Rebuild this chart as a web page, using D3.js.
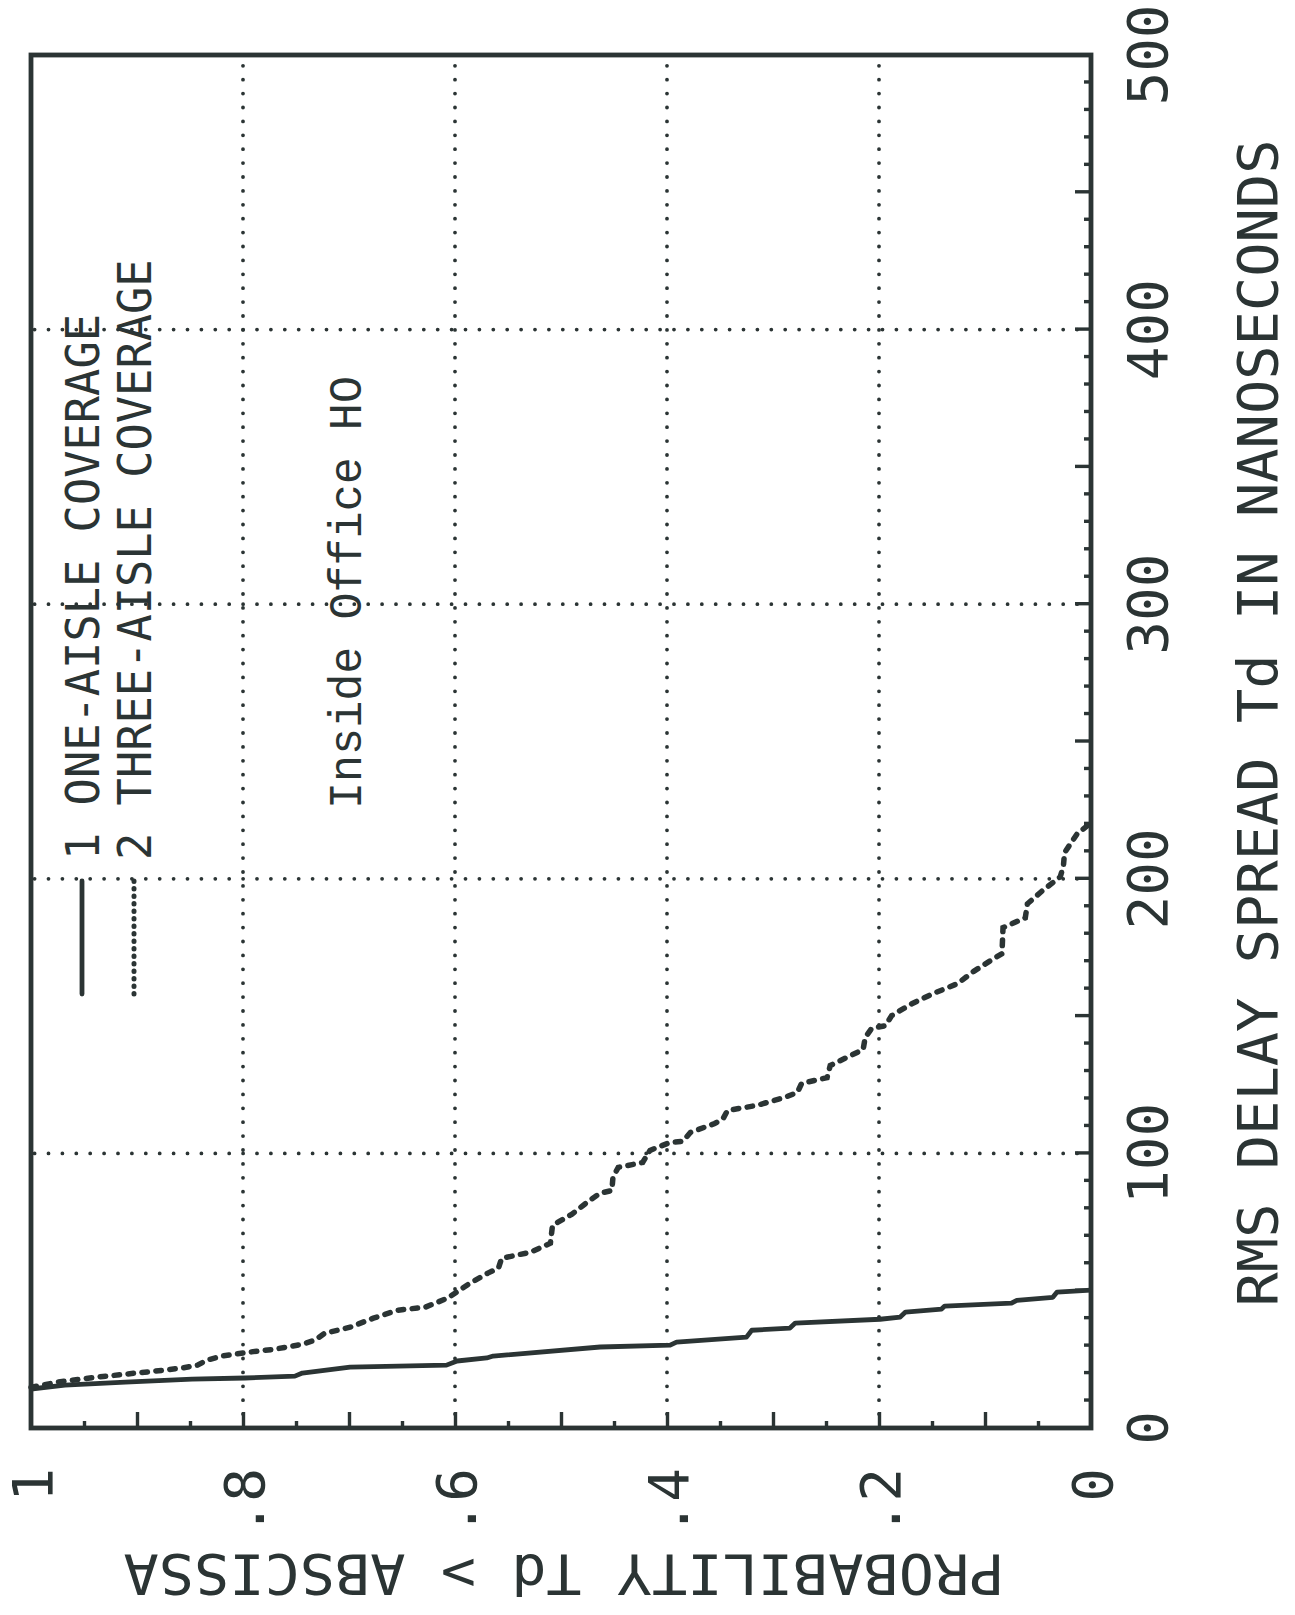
<!DOCTYPE html>
<html>
<head>
<meta charset="utf-8">
<script src="https://cdn.jsdelivr.net/npm/d3@7"></script>
<style>
  html, body { margin: 0; padding: 0; background: #ffffff; }
  svg { display: block; }
</style>
</head>
<body>
<svg id="chart" width="1295" height="1615"></svg>
<script>
// Complementary CDF of RMS delay spread, inside office HO.
// Each series: [delay in ns, probability that Td exceeds it]
const oneAisle = [
  [14.2, 1.0], [15.6, 0.968], [16.7, 0.911], [17.8, 0.848], [18.2, 0.798],
  [18.9, 0.751], [20.0, 0.744], [22.2, 0.699], [22.9, 0.608], [24.4, 0.598],
  [25.5, 0.570], [26.2, 0.564], [29.5, 0.463], [30.2, 0.397], [31.3, 0.391],
  [33.1, 0.325], [35.6, 0.320], [36.4, 0.284], [38.2, 0.279], [39.6, 0.199],
  [40.4, 0.180], [42.2, 0.175], [43.3, 0.141], [44.4, 0.138], [45.5, 0.075],
  [46.5, 0.070], [47.6, 0.036], [49.5, 0.032], [50.2, 0.0]
];
const threeAisle = [
  [14.8, 1.0], [16.7, 0.975], [18.5, 0.938], [19.6, 0.911], [20.7, 0.883],
  [21.8, 0.858], [22.9, 0.843], [24.7, 0.834], [26.2, 0.820], [27.6, 0.795],
  [28.7, 0.770], [30.5, 0.744], [32.0, 0.732], [34.5, 0.723], [36.7, 0.699],
  [40.0, 0.677], [42.9, 0.654], [44.0, 0.628], [47.3, 0.607], [52.7, 0.586],
  [56.4, 0.569], [58.2, 0.559], [61.8, 0.556], [64.0, 0.529], [67.3, 0.510],
  [73.8, 0.508], [77.8, 0.490], [82.9, 0.473], [85.5, 0.463], [86.5, 0.452],
  [91.3, 0.451], [94.9, 0.446], [96.7, 0.423], [101.1, 0.416], [104.0, 0.397],
  [104.4, 0.385], [107.6, 0.378], [110.9, 0.355], [112.7, 0.347], [115.6, 0.343],
  [117.5, 0.315], [120.4, 0.289], [122.2, 0.277], [125.5, 0.273], [127.6, 0.249],
  [132.0, 0.246], [135.6, 0.227], [137.8, 0.215], [142.2, 0.213], [145.5, 0.207],
  [146.5, 0.194], [150.2, 0.188], [154.5, 0.169], [158.2, 0.149], [161.8, 0.126],
  [166.2, 0.111], [170.9, 0.092], [172.7, 0.084], [182.2, 0.083], [185.8, 0.062],
  [190.9, 0.060], [195.6, 0.046], [200.7, 0.029], [204.7, 0.026], [209.5, 0.025],
  [216.4, 0.013], [220.4, 0.0]
];

const delayTicks = [0, 100, 200, 300, 400, 500];
const delayTickLabels = ["0", "100", "200", "300", "400", "500"];
const probTicks = [0, 0.2, 0.4, 0.6, 0.8, 1];
const probTickLabels = ["0", ".2", ".4", ".6", ".8", "1"];
const seriesNames = ["1 ONE-AISLE COVERAGE", "2 THREE-AISLE COVERAGE"];
const xTitle = "RMS DELAY SPREAD Td IN NANOSECONDS";
const yTitle = "PROBABILITY Td > ABSCISSA";
const note = "Inside Office HO";

const ink = "#2b3434";
const W = 1373, H = 1060;           // plot size in the chart's own frame
const svg = d3.select("#chart");

// the whole plot is laid on its side: delay runs upward, probability leftward
const g = svg.append("g").attr("transform", "translate(31,1428) rotate(-90)");

const x = d3.scaleLinear().domain([0, 500]).range([0, W]);
const y = d3.scaleLinear().domain([0, 1]).range([H, 0]);

// dotted grid
const grid = g.append("g")
  .attr("stroke", ink).attr("stroke-width", 3.8)
  .attr("stroke-linecap", "round").attr("stroke-dasharray", "0 13.9");
grid.selectAll("line.gx").data(delayTicks.slice(1, -1)).join("line")
  .attr("x1", d => x(d)).attr("x2", d => x(d))
  .attr("y1", H).attr("y2", 0);
grid.selectAll("line.gy").data(probTicks.slice(1, -1)).join("line")
  .attr("x1", 0).attr("x2", W)
  .attr("y1", d => y(d)).attr("y2", d => y(d));

// delay axis with inward ticks: every 10 ns, long ones every 50 ns
const xMinor = d3.range(10, 500, 10).filter(d => d % 50 !== 0);
const xMajor = d3.range(50, 500, 50);
const xAxisG = g.append("g").attr("transform", `translate(0,${H})`);
xAxisG.call(d3.axisBottom(x).tickValues(xMinor).tickSize(-7).tickFormat(""));
xAxisG.call(g2 => g2.append("g").call(d3.axisBottom(x).tickValues(xMajor).tickSize(-16).tickFormat("")));
xAxisG.selectAll("path.domain").remove();
xAxisG.selectAll("line").attr("stroke", ink).attr("stroke-width", 3.4);

// probability axis with inward ticks: every .05, long ones every .1
const yMinor = d3.range(0.05, 1, 0.1);
const yMajor = d3.range(0.1, 0.95, 0.1);
const yAxisG = g.append("g");
yAxisG.call(d3.axisLeft(y).tickValues(yMinor).tickSize(-7).tickFormat(""));
yAxisG.call(g2 => g2.append("g").call(d3.axisLeft(y).tickValues(yMajor).tickSize(-16).tickFormat("")));
yAxisG.selectAll("path.domain").remove();
yAxisG.selectAll("line").attr("stroke", ink).attr("stroke-width", 3.4);

// frame
g.append("rect").attr("x", 0).attr("y", 0).attr("width", W).attr("height", H)
  .attr("fill", "none").attr("stroke", ink).attr("stroke-width", 4.8);

// tick labels
const tickFont = "'DejaVu Sans Mono', monospace";
g.append("g").selectAll("text").data(delayTicks).join("text")
  .attr("x", d => x(d)).attr("y", H + 76)
  .attr("text-anchor", "middle")
  .attr("font-family", tickFont).attr("font-size", 56).attr("fill", ink)
  .text((d, i) => delayTickLabels[i]);

g.append("g").selectAll("text").data(probTicks).join("text")
  .attr("x", -40).attr("y", d => y(d) + 21)
  .attr("text-anchor", "end")
  .attr("font-family", tickFont).attr("font-size", 56).attr("fill", ink)
  .text((d, i) => probTickLabels[i]);

// axis titles
g.append("text")
  .attr("x", 705).attr("y", H + 186)
  .attr("text-anchor", "middle")
  .attr("font-family", tickFont).attr("font-size", 56).attr("fill", ink)
  .attr("textLength", 1167).attr("lengthAdjust", "spacingAndGlyphs")
  .text(xTitle);

g.append("text")
  .attr("transform", `translate(-127,${H / 2 + 3}) rotate(-90)`)
  .attr("text-anchor", "middle")
  .attr("font-family", tickFont).attr("font-size", 56).attr("fill", ink)
  .attr("textLength", 881).attr("lengthAdjust", "spacingAndGlyphs")
  .text(yTitle);

// curves
const line = d3.line().x(d => x(d[0])).y(d => y(d[1]));
g.append("path").datum(oneAisle).attr("d", line)
  .attr("fill", "none").attr("stroke", ink).attr("stroke-width", 4.8)
  .attr("stroke-linejoin", "round");
g.append("path").datum(threeAisle).attr("d", line)
  .attr("fill", "none").attr("stroke", ink).attr("stroke-width", 5.5)
  .attr("stroke-linecap", "round").attr("stroke-dasharray", "5.5 8.5");

// legend
const legend = g.append("g");
const legendRows = [
  { name: seriesNames[0], yc: 51, dash: null, w: 4.8 },
  { name: seriesNames[1], yc: 103, dash: "0.5 7", w: 5 }
];
legendRows.forEach(r => {
  legend.append("line")
    .attr("x1", 434).attr("x2", 547).attr("y1", r.yc).attr("y2", r.yc)
    .attr("stroke", ink).attr("stroke-width", r.w)
    .attr("stroke-linecap", "round")
    .attr("stroke-dasharray", r.dash);
  legend.append("text")
    .attr("x", 568).attr("y", r.yc + 17)
    .attr("font-family", tickFont).attr("font-size", 47).attr("fill", ink)
    .attr("textLength", r.name.length * 27.3).attr("lengthAdjust", "spacingAndGlyphs")
    .text(r.name);
});

g.append("text")
  .attr("x", 619).attr("y", 330)
  .attr("font-family", "'Liberation Mono', monospace").attr("font-size", 46)
  .attr("fill", ink)
  .attr("textLength", 433).attr("lengthAdjust", "spacingAndGlyphs")
  .text(note);
</script>
</body>
</html>
